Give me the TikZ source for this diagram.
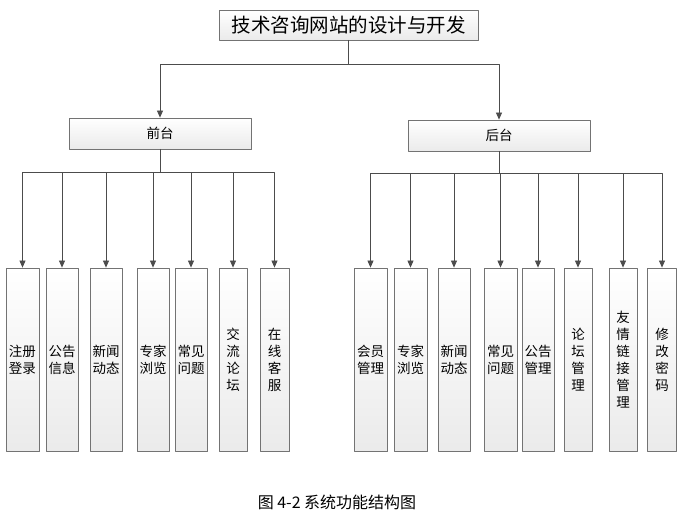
\documentclass[tikz,border=0pt]{standalone}
\usepackage{fontspec}
\newfontfamily\cjk{Noto Sans CJK SC}
\usetikzlibrary{arrows.meta,shadows}
\tikzset{
  box/.style={draw=black!55,line width=0.8pt,top color=white,bottom color=black!8,
    drop shadow={shadow xshift=1.2pt,shadow yshift=-1.2pt,opacity=0.25,fill=black},
    inner sep=0pt,align=center,font=\cjk\fontsize{13.5}{17}\selectfont},
  leaf/.style={box,minimum height=183pt},
  link/.style={draw=black!70,line width=0.8pt},
  arr/.style={link,-{Triangle[width=6pt,length=7pt]}}
}
\begin{document}
\begin{tikzpicture}[x=1pt,y=-1pt,line cap=round,line join=round]
  \useasboundingbox (0,0) rectangle (677,521);

  \node[box,minimum width=259pt,minimum height=30pt,font=\cjk\fontsize{19.5}{22}\selectfont] (title) at (348.5,25) {技术咨询网站的设计与开发};
  \node[box,minimum width=182pt,minimum height=31pt] (qt) at (160,133.5) {前台};
  \node[box,minimum width=182pt,minimum height=31pt] (ht) at (499,135.5) {后台};

  \coordinate (tbus) at (348.5,64);
  \coordinate (qbus) at (160,172);
  \coordinate (hbus) at (499,173);

  \draw[link] (title.south) -- (tbus);
  \draw[arr] (tbus) -| (qt.north);
  \draw[arr] (tbus) -| (ht.north);

  \foreach \i/\x/\w/\t in {1/22.5/33/{注册\\登录},2/62/32/{公告\\信息},3/106/32/{新闻\\动态},
      4/153/32/{专家\\浏览},5/191/32/{常见\\问题},6/233/28/{交\\流\\论\\坛},7/274.5/29/{在\\线\\客\\服}} {
    \node[leaf,minimum width=\w pt] (q\i) at (\x,359.5) {\t};
    \draw[arr] (qbus) -| (q\i.north);
  }
  \draw[link] (qt.south) -- (qbus);

  \foreach \i/\x/\w/\t in {1/370.5/33/{会员\\管理},2/410.5/33/{专家\\浏览},3/454/32/{新闻\\动态},
      4/500.5/33/{常见\\问题},5/538/32/{公告\\管理},6/578/28/{论\\坛\\管\\理},
      7/623/28/{友\\情\\链\\接\\管\\理},8/662/29/{修\\改\\密\\码}} {
    \node[leaf,minimum width=\w pt] (h\i) at (\x,359.5) {\t};
    \draw[arr] (hbus) -| (h\i.north);
  }
  \draw[link] (ht.south) -- (hbus);

  \node[font=\cjk\fontsize{16}{18}\selectfont] (cap) at (337,502) {图\ 4-2\ 系统功能结构图};
\end{tikzpicture}
\end{document}
